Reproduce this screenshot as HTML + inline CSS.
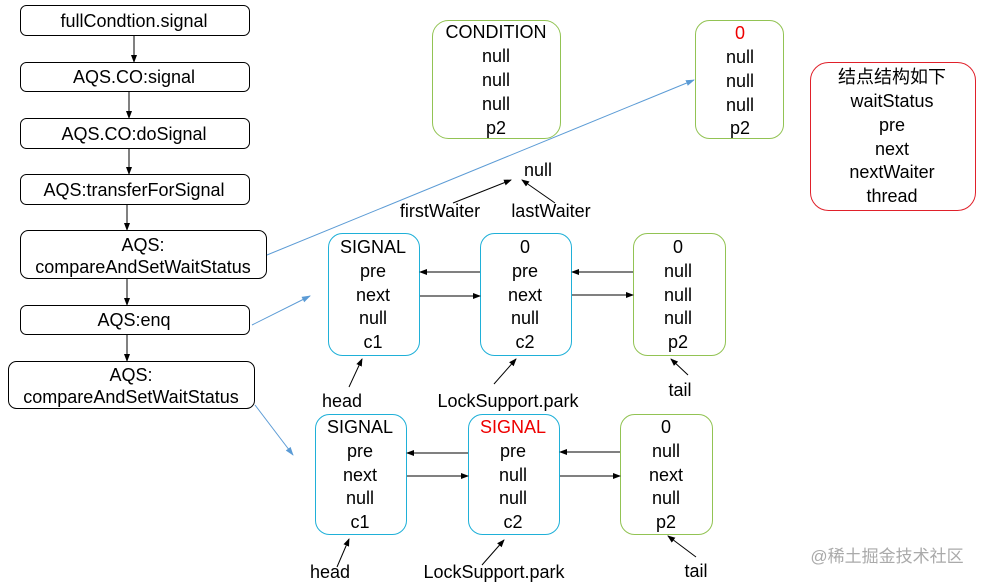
<!DOCTYPE html>
<html><head><meta charset="utf-8"><style>
html,body{margin:0;padding:0;background:#fff;}
svg{display:block;}
text{font-family:"Liberation Sans","Noto Sans CJK SC",sans-serif;font-size:18px;fill:#000;text-anchor:middle;}
</style></head><body>
<svg width="984" height="585" viewBox="0 0 984 585" xmlns="http://www.w3.org/2000/svg">
<defs>
<marker id="a" markerWidth="8" markerHeight="8" refX="7" refY="4" orient="auto" markerUnits="userSpaceOnUse"><path d="M0,1 L8,4 L0,7 z" fill="#000"/></marker>
<marker id="b" markerWidth="9" markerHeight="8" refX="8" refY="4" orient="auto" markerUnits="userSpaceOnUse"><path d="M0,1 L9,4 L0,7 z" fill="#5b9bd5"/></marker>
</defs>
<g fill="#fff" stroke="#000" stroke-width="1">
<rect x="20.5" y="5.5" width="229" height="30" rx="6"/>
<rect x="20.5" y="62.5" width="229" height="29" rx="6"/>
<rect x="20.5" y="118.5" width="229" height="30" rx="6"/>
<rect x="20.5" y="174.5" width="229" height="30" rx="6"/>
<rect x="20.5" y="230.5" width="246" height="48" rx="8"/>
<rect x="20.5" y="305.5" width="229" height="29" rx="6"/>
<rect x="8.5" y="361.5" width="246" height="47" rx="8"/>
</g>
<g stroke="#000" stroke-width="1" marker-end="url(#a)">
<line x1="134" y1="36" x2="134" y2="62"/>
<line x1="129" y1="92" x2="129" y2="118"/>
<line x1="129" y1="149" x2="129" y2="174"/>
<line x1="127" y1="205" x2="127" y2="230"/>
<line x1="127" y1="279" x2="127" y2="305"/>
<line x1="127" y1="335" x2="127" y2="361"/>
</g>
<text x="134" y="27">fullCondtion.signal</text>
<text x="134" y="83">AQS.CO:signal</text>
<text x="134" y="140">AQS.CO:doSignal</text>
<text x="134" y="196">AQS:transferForSignal</text>
<text x="143" y="251">AQS:</text>
<text x="143" y="273">compareAndSetWaitStatus</text>
<text x="134" y="326">AQS:enq</text>
<text x="131" y="381">AQS:</text>
<text x="131" y="403">compareAndSetWaitStatus</text>

<g stroke="#5b9bd5" stroke-width="1" marker-end="url(#b)">
<line x1="267" y1="255" x2="694" y2="80"/>
<line x1="252" y1="325" x2="310" y2="296"/>
<line x1="255" y1="405" x2="293" y2="455"/>
</g>

<g fill="#fff" stroke-width="1">
<rect x="432.5" y="20.5" width="128" height="118" rx="16" stroke="#92c353"/>
<rect x="695.5" y="20.5" width="88" height="118" rx="14" stroke="#92c353"/>
<rect x="810.5" y="62.5" width="165" height="148" rx="18" stroke="#e0202a"/>
<rect x="328.5" y="233.5" width="91" height="122" rx="14" stroke="#1fb0d8"/>
<rect x="480.5" y="233.5" width="91" height="122" rx="14" stroke="#1fb0d8"/>
<rect x="633.5" y="233.5" width="92" height="122" rx="14" stroke="#92c353"/>
<rect x="315.5" y="414.5" width="91" height="120" rx="14" stroke="#1fb0d8"/>
<rect x="468.5" y="414.5" width="91" height="120" rx="14" stroke="#1fb0d8"/>
<rect x="620.5" y="414.5" width="92" height="120" rx="14" stroke="#92c353"/>
</g>

<text x="496" y="38">CONDITION</text><text x="496" y="62">null</text><text x="496" y="86">null</text><text x="496" y="110">null</text><text x="496" y="134">p2</text>
<text x="740" y="39" style="fill:#e00">0</text><text x="740" y="63">null</text><text x="740" y="87">null</text><text x="740" y="111">null</text><text x="740" y="134">p2</text>
<text x="892" y="83">结点结构如下</text><text x="892" y="107">waitStatus</text><text x="892" y="131">pre</text><text x="892" y="155">next</text><text x="892" y="178">nextWaiter</text><text x="892" y="202">thread</text>

<text x="538" y="176">null</text>
<text x="440" y="217">firstWaiter</text>
<text x="551" y="217">lastWaiter</text>
<g stroke="#000" stroke-width="1" marker-end="url(#a)">
<line x1="453" y1="203" x2="511" y2="180"/>
<line x1="555" y1="203" x2="522" y2="180"/>
</g>

<text x="373" y="253">SIGNAL</text><text x="373" y="277">pre</text><text x="373" y="301">next</text><text x="373" y="324">null</text><text x="373" y="348">c1</text>
<text x="525" y="253">0</text><text x="525" y="277">pre</text><text x="525" y="301">next</text><text x="525" y="324">null</text><text x="525" y="348">c2</text>
<text x="678" y="253">0</text><text x="678" y="277">null</text><text x="678" y="301">null</text><text x="678" y="324">null</text><text x="678" y="348">p2</text>

<text x="360" y="433">SIGNAL</text><text x="360" y="457">pre</text><text x="360" y="481">next</text><text x="360" y="504">null</text><text x="360" y="528">c1</text>
<text x="513" y="433" style="fill:#e00">SIGNAL</text><text x="513" y="457">pre</text><text x="513" y="481">null</text><text x="513" y="504">null</text><text x="513" y="528">c2</text>
<text x="666" y="433">0</text><text x="666" y="457">null</text><text x="666" y="481">next</text><text x="666" y="504">null</text><text x="666" y="528">p2</text>

<g stroke="#000" stroke-width="1" marker-end="url(#a)">
<line x1="480" y1="272" x2="420" y2="272"/>
<line x1="420" y1="296" x2="480" y2="296"/>
<line x1="633" y1="272" x2="572" y2="272"/>
<line x1="572" y1="295" x2="633" y2="295"/>
<line x1="468" y1="453" x2="407" y2="453"/>
<line x1="407" y1="476" x2="468" y2="476"/>
<line x1="620" y1="452" x2="560" y2="452"/>
<line x1="560" y1="476" x2="620" y2="476"/>
<line x1="349" y1="387" x2="362" y2="359"/>
<line x1="494" y1="384" x2="516" y2="359"/>
<line x1="688" y1="375" x2="671" y2="359"/>
<line x1="337" y1="567" x2="349" y2="539"/>
<line x1="482" y1="565" x2="504" y2="540"/>
<line x1="696" y1="557" x2="668" y2="536"/>
</g>
<text x="342" y="407">head</text>
<text x="508" y="407">LockSupport.park</text>
<text x="680" y="396">tail</text>
<text x="330" y="578">head</text>
<text x="494" y="578">LockSupport.park</text>
<text x="696" y="577">tail</text>

<text x="887" y="562" style="fill:#aaa;font-size:17px">@稀土掘金技术社区</text>
</svg>
</body></html>
